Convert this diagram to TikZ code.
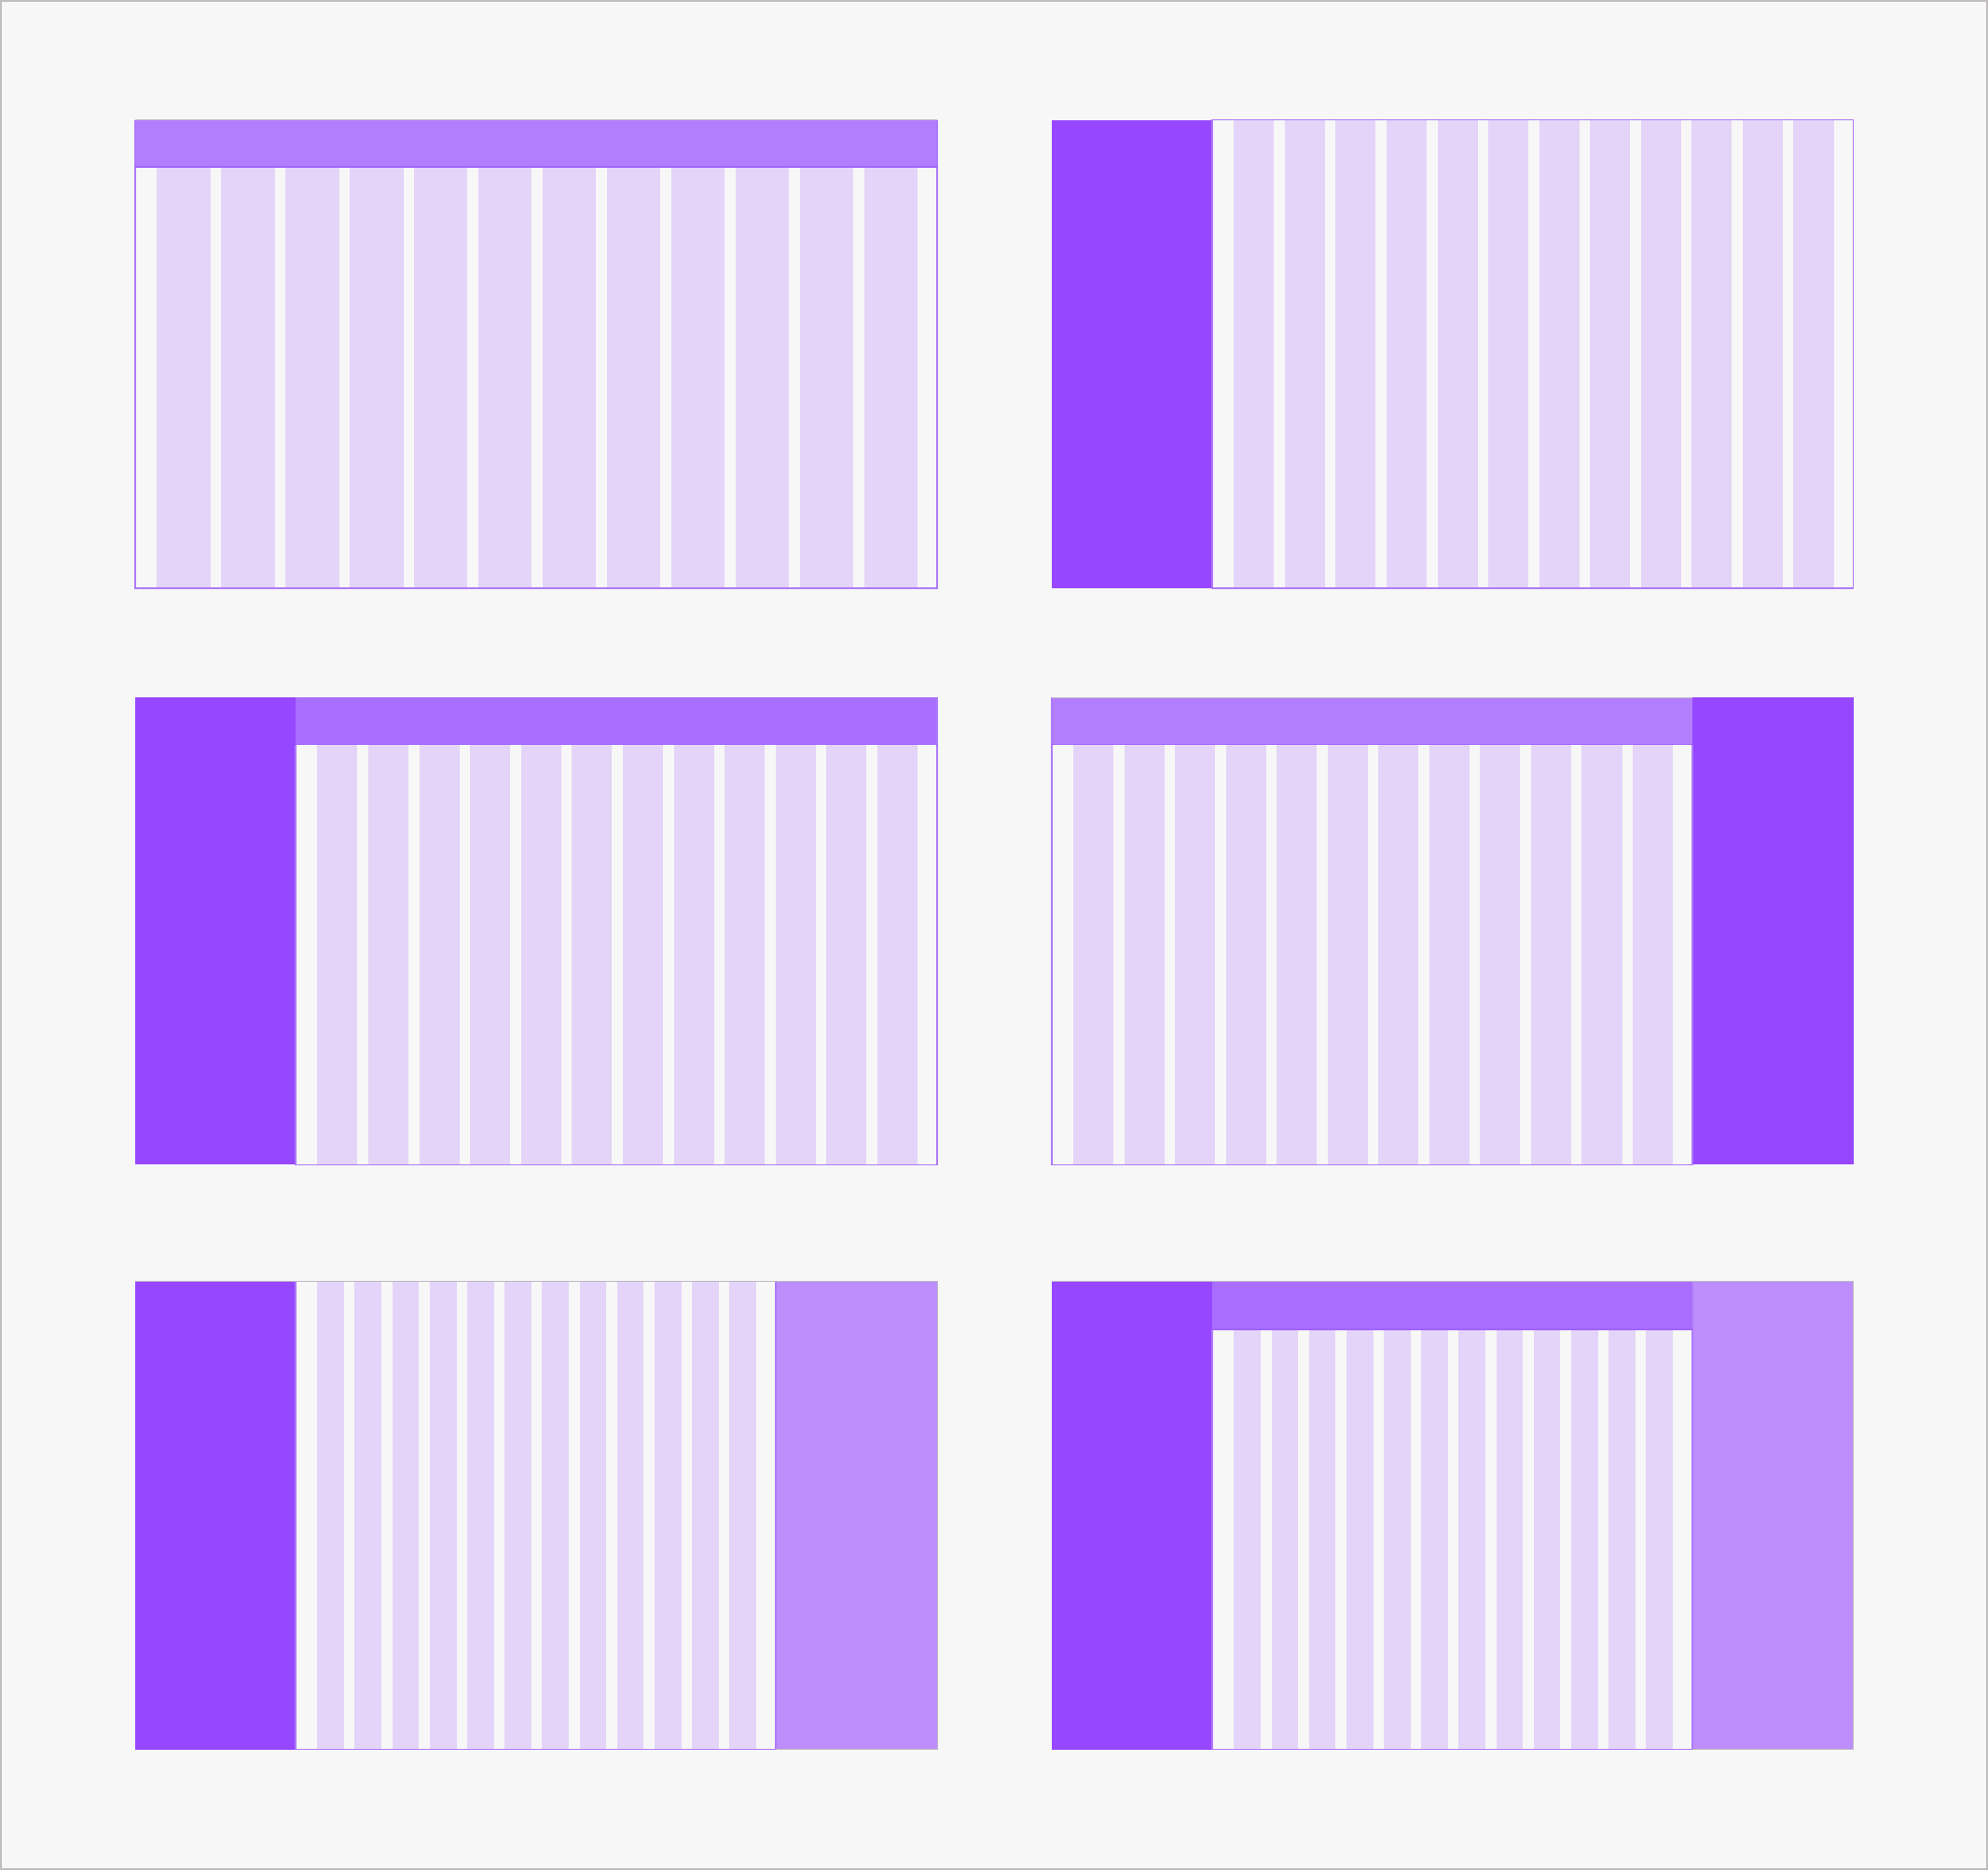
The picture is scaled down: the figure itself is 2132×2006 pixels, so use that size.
\documentclass[tikz,border=0pt]{standalone}
\definecolor{bgc}{HTML}{F7F7F7}
\definecolor{framec}{HTML}{C0BEBE}
\definecolor{hdrA}{HTML}{B37EFD}
\definecolor{hdrB}{HTML}{A96DFF}
\definecolor{sidedark}{HTML}{9747FF}
\definecolor{sidelight}{HTML}{BD8EFB}
\definecolor{colc}{HTML}{E4D4F9}
\definecolor{edgec}{HTML}{AE7AFA}
\definecolor{hline}{HTML}{A064FA}
\definecolor{topgray}{HTML}{BDB9C2}
\tikzset{
  contentborder/.style={draw=edgec, line width=1.3pt},
  headerline/.style={draw=hline, line width=1.5pt},
  topline/.style={draw=topgray, line width=0.8pt}
}
\newcommand\colgrid[4]{%
  \pgfmathsetmacro\cw{(#2-#1-23.3-21-11*11.5)/12}%
  \foreach \i in {0,...,11} {%
    \fill[colc] ({#1+23.3+\i*(\cw+11.5)},#3) rectangle ++(\cw,{#4-#3});
  }%
}
\begin{document}
\begin{tikzpicture}[x=1pt,y=-1pt]
\useasboundingbox (0,0) rectangle (2132,2006);
\fill[bgc] (0,0) rectangle (2132,2006);
\draw[framec, line width=2pt] (1,1) rectangle (2131,2005);

% ---- Panel 1 ----
\fill[hdrA] (145,128.5) rectangle (1005,179);
\colgrid{145}{1005}{179}{631}
\draw[contentborder] (145,128.5) -- (145,631) -- (1005,631) -- (1005,128.5);
\draw[headerline] (145,179) -- (1005,179);
\draw[topline] (145,128.5) -- (1005,128.5);

% ---- Panel 2 ----
\fill[sidedark] (1128,128.5) rectangle (1300,631);
\colgrid{1300}{1987.5}{128.5}{631}
\draw[contentborder] (1300,128.5) rectangle (1987.5,631);

% ---- Panel 3 ----
\fill[sidedark] (145,748) rectangle (317,1249.3);
\fill[hdrB] (317,748) rectangle (1005,798.7);
\colgrid{317}{1005}{798.7}{1249.3}
\draw[contentborder] (317,798.7) -- (317,1249.3) -- (1005,1249.3) -- (1005,748);
\draw[headerline] (317,798.7) -- (1005,798.7);

% ---- Panel 4 ----
\fill[hdrA] (1128,748) rectangle (1815,798.7);
\colgrid{1128}{1815}{798.7}{1249.3}
\fill[sidedark] (1815,748) rectangle (1987.5,1249.3);
\draw[contentborder] (1128,748) -- (1128,1249.3) -- (1815,1249.3) -- (1815,798.7);
\draw[headerline] (1128,798.7) -- (1815,798.7);
\draw[topline] (1128,748) -- (1815,748);

% ---- Panel 5 ----
\fill[sidedark] (145,1374.3) rectangle (317,1876.7);
\colgrid{317}{832}{1374.3}{1876.7}
\fill[sidelight] (832,1374.3) rectangle (1005.5,1876.7);
\draw[contentborder] (317,1374.3) -- (317,1876.7) -- (832,1876.7) -- (832,1374.3);
\draw[topline] (145,1374.3) -- (1005.5,1374.3) -- (1005.5,1876.7) -- (832,1876.7);

% ---- Panel 6 ----
\fill[sidedark] (1128,1374.3) rectangle (1300,1876.7);
\fill[hdrB] (1300,1374.3) rectangle (1815,1426);
\colgrid{1300}{1815}{1426}{1876.7}
\fill[sidelight] (1815,1374.3) rectangle (1987.5,1876.7);
\draw[contentborder] (1300,1426) -- (1300,1876.7) -- (1815,1876.7) -- (1815,1374.3);
\draw[headerline] (1300,1426) -- (1815,1426);
\draw[topline] (1128,1374.3) -- (1987.5,1374.3) -- (1987.5,1876.7) -- (1815,1876.7);
\end{tikzpicture}
\end{document}
